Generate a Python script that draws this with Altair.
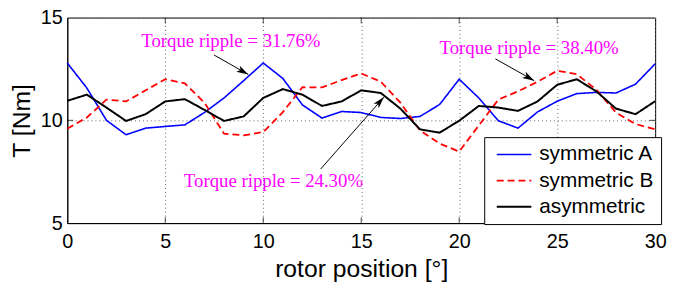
import math
import altair as alt
import pandas as pd

# ---------------- data ----------------
angles = list(range(31))
sym_a = [12.79, 11.57, 10.00, 9.30, 9.62, 9.70, 9.78, 10.38, 11.09, 11.93, 12.79,
         12.04, 10.75, 10.11, 10.43, 10.38, 10.14, 10.09, 10.19, 10.77, 12.00,
         11.09, 9.98, 9.62, 10.41, 10.93, 11.30, 11.36, 11.33, 11.76, 12.75]
sym_b = [9.59, 10.14, 11.01, 10.92, 11.46, 12.00, 11.80, 10.86, 9.35, 9.27, 9.43,
         10.40, 11.61, 11.60, 11.96, 12.28, 11.88, 10.86, 9.51, 8.87, 8.48,
         9.75, 11.01, 11.41, 11.88, 12.41, 12.25, 11.49, 10.38, 9.82, 9.56]
asym = [10.95, 11.25, 10.62, 9.97, 10.30, 10.92, 11.03, 10.51, 9.97, 10.19, 11.09,
        11.52, 11.25, 10.70, 10.92, 11.46, 11.33, 10.57, 9.56, 9.40, 9.98,
        10.70, 10.62, 10.46, 10.92, 11.73, 12.00, 11.41, 10.57, 10.30, 10.93]

series_names = ["symmetric A", "symmetric B", "asymmetric"]
series_values = [sym_a, sym_b, asym]
series_colors = ["#0000ff", "#ff0000", "#000000"]
series_dash = [[1, 0], [7, 4], [1, 0]]
series_width = [1.6, 2.0, 2.6]

x_ticks = [0, 5, 10, 15, 20, 25, 30]
y_ticks = [5, 10, 15]

ann_text = ["Torque ripple = 31.76%", "Torque ripple = 24.30%", "Torque ripple = 38.40%"]
ann_x = [8.35, 10.52, 23.57]
ann_y = [13.59, 6.74, 13.23]
arrow_x0 = [7.49, 12.93, 21.85]
arrow_y0 = [13.18, 7.63, 12.99]
arrow_x1 = [9.24, 16.16, 23.83]
arrow_y1 = [12.23, 11.13, 11.93]

# ---------------- layout ----------------
W, H = 595, 208
X_DOM, Y_DOM = [0, 30], [5, 15]

rows = []
for name, vals in zip(series_names, series_values):
    for a, v in zip(angles, vals):
        rows.append({"angle": a, "torque": v, "series": name})
df = pd.DataFrame(rows)

ann_df = pd.DataFrame({"angle": ann_x, "torque": ann_y, "text": ann_text})

heads = []
for x0, y0, x1, y1 in zip(arrow_x0, arrow_y0, arrow_x1, arrow_y1):
    dxp = (x1 - x0) * W / (X_DOM[1] - X_DOM[0])
    dyp = -(y1 - y0) * H / (Y_DOM[1] - Y_DOM[0])
    ang = math.degrees(math.atan2(dxp, -dyp)) % 360
    heads.append({"angle": x0, "torque": y0, "angle2": x1, "torque2": y1,
                  "tx": x1, "ty": y1, "rot": ang})
arrow_df = pd.DataFrame(heads)

xticks_df = pd.DataFrame({"angle": x_ticks[1:-1]})
yticks_df = pd.DataFrame({"torque": y_ticks[1:-1]})

FONT = "Liberation Sans"

x_enc = alt.X("angle:Q", scale=alt.Scale(domain=X_DOM, nice=False, zero=False),
              axis=alt.Axis(values=x_ticks, title="rotor position [°]", grid=True,
                            gridDash=[1, 3], gridColor="#666666", gridWidth=1,
                            tickSize=0, labelPadding=9, labelFontSize=20,
                            labelFont=FONT, labelColor="black", titleFont=FONT,
                            titleFontSize=25, titleFontWeight="normal",
                            titleColor="black", titlePadding=5,
                            domainColor="black", labelFlush=False, format="d"))
y_enc = alt.Y("torque:Q", scale=alt.Scale(domain=Y_DOM, nice=False, zero=False),
              axis=alt.Axis(values=y_ticks, title="T [Nm]", grid=True,
                            gridDash=[1, 3], gridColor="#666666", gridWidth=1,
                            tickSize=0, labelPadding=5, labelFontSize=20,
                            labelFont=FONT, labelColor="black", titleFont=FONT,
                            titleFontSize=25, titleFontWeight="normal",
                            titleColor="black", titlePadding=6,
                            domainColor="black", labelFlush=False, format="d"))

lines = alt.Chart(df).mark_line(strokeCap="butt").encode(
    x=x_enc,
    y=y_enc,
    color=alt.Color("series:N", scale=alt.Scale(domain=series_names, range=series_colors),
                    legend=alt.Legend(title=None)),
    strokeDash=alt.StrokeDash("series:N", scale=alt.Scale(domain=series_names, range=series_dash),
                              legend=alt.Legend(title=None)),
    strokeWidth=alt.StrokeWidth("series:N", scale=alt.Scale(domain=series_names, range=series_width),
                                legend=alt.Legend(title=None)),
)

tick_bottom = alt.Chart(xticks_df).mark_tick(orient="vertical", color="black", size=6, thickness=1).encode(
    x="angle:Q", y=alt.value(H - 3))
tick_top = alt.Chart(xticks_df).mark_tick(orient="vertical", color="black", size=6, thickness=1).encode(
    x="angle:Q", y=alt.value(3))
tick_left = alt.Chart(yticks_df).mark_tick(orient="horizontal", color="black", size=6, thickness=1).encode(
    y="torque:Q", x=alt.value(3))
tick_right = alt.Chart(yticks_df).mark_tick(orient="horizontal", color="black", size=6, thickness=1).encode(
    y="torque:Q", x=alt.value(W - 3))

arrows = alt.Chart(arrow_df).mark_rule(color="black", strokeWidth=1).encode(
    x="angle:Q", y="torque:Q", x2="angle2:Q", y2="torque2:Q")

head_path = "M0,0 L-0.35,1.2 L0,0.9 L0.35,1.2 Z"
arrow_heads = alt.Chart(arrow_df).mark_point(shape=head_path, filled=True, color="black",
                                             opacity=1, size=400, strokeWidth=0).encode(
    x=alt.X("tx:Q"), y=alt.Y("ty:Q"), angle=alt.Angle("rot:Q", scale=None))

texts = alt.Chart(ann_df).mark_text(font="Liberation Serif", fontSize=19, color="#ff00ff",
                                    align="center", baseline="alphabetic").encode(
    x="angle:Q", y="torque:Q", text="text:N")

# legend line symbol: long horizontal stroke with a small nominal size
legend_symbol = "M-3,0H3"

chart = alt.layer(tick_bottom, tick_top, tick_left, tick_right, lines, arrows, arrow_heads, texts).properties(
    width=W, height=H,
    autosize=alt.AutoSizeParams(type="none"),
    padding={"left": 60, "top": 8, "right": 12, "bottom": 64},
).configure_view(
    stroke="black", strokeWidth=1
).configure_legend(
    orient="none", legendX=422, legendY=121,
    strokeColor="black", fillColor="white", padding=7, cornerRadius=0,
    symbolType=legend_symbol, symbolSize=136, symbolOffset=12.7,
    labelFont=FONT, labelFontSize=21,
    labelColor="black", labelOffset=15, rowPadding=4.5, symbolStrokeWidth=2,
)

chart.save("out.html", embed_options={"renderer": "svg", "actions": False})
